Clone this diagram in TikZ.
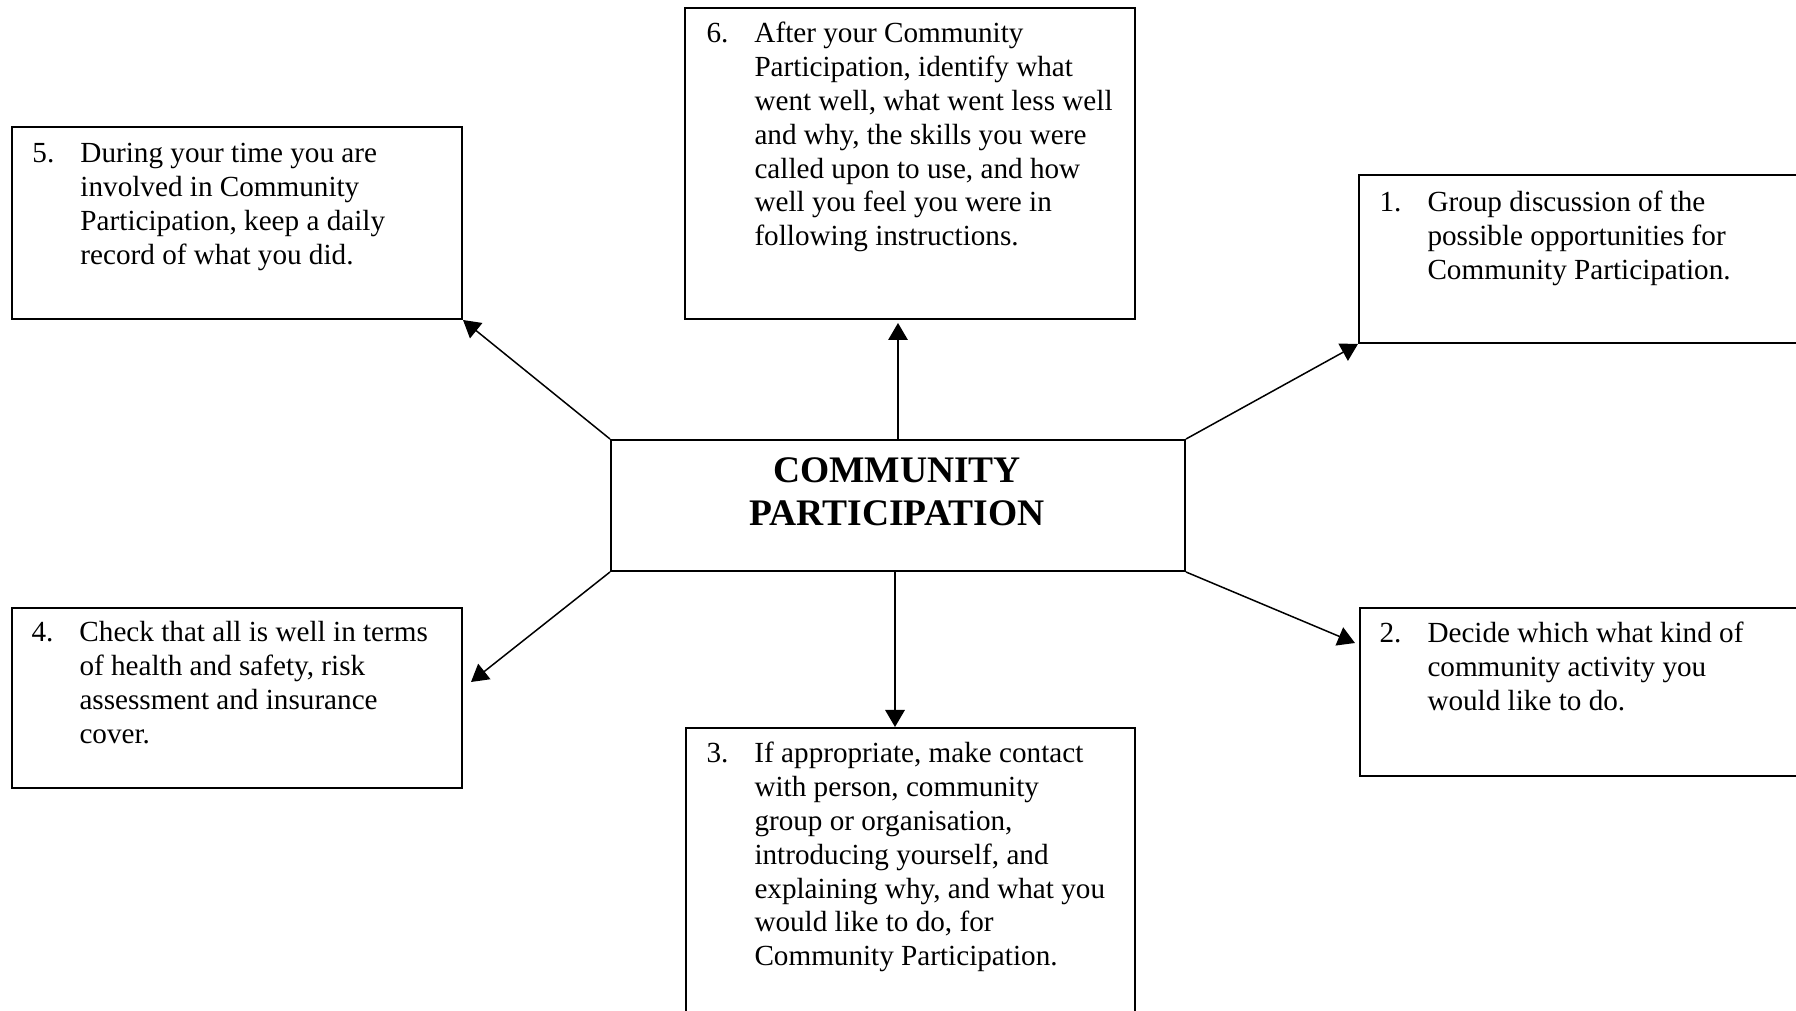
\documentclass[tikz,border=0pt]{standalone}
\usepackage{fontspec}
\setmainfont{Liberation Serif}
\usetikzlibrary{arrows.meta,calc,positioning}

\begin{document}
\begin{tikzpicture}[x=0.4pt, y=-0.4pt,
		stepbox/.style={draw, line width=0.8pt, anchor=north west, inner sep=0pt, minimum width=180pt},
		steptext/.style={anchor=base west, inner sep=0pt, font=\fontsize{11.67pt}{13.52pt}\selectfont},
		link/.style={line width=0.6pt, -{Triangle[length=6.8pt,width=7.8pt]}}]
		\useasboundingbox (0,0) rectangle (1796,1011);
		\node [stepbox, minimum height=76.8pt] (box5) at (11,126) {};
		\node [stepbox, minimum height=124.4pt] (box6) at (684,7) {};
		\node [stepbox, minimum height=67.2pt] (box1) at (1358,174) {};
		\node [stepbox, minimum height=72pt] (box4) at (11,607) {};
		\node [stepbox, minimum width=179.6pt, minimum height=124.4pt] (box3) at (685,727) {};
		\node [stepbox, minimum height=67.2pt] (box2) at (1359,607) {};
		\node [stepbox, minimum width=229.6pt, minimum height=52.4pt] (centre) at (610,439) {};
		\node [anchor=base, inner sep=0pt, font=\fontsize{15pt}{17.2pt}\selectfont\bfseries] (title) at (897,483) {\begin{tabular}[t]{@{}c@{}}COMMUNITY\\PARTICIPATION\end{tabular}};
		\node [steptext] (text5) at (32,163) {\begin{tabular}[t]{@{}p{19.2pt}@{}l@{}}5. & During your time you are\\ & involved in Community\\ & Participation, keep a daily\\ & record of what you did.\end{tabular}};
		\node [steptext] (text6) at (706,43) {\begin{tabular}[t]{@{}p{19.2pt}@{}l@{}}6. & After your Community\\ & Participation, identify what\\ & went well, what went less well\\ & and why, the skills you were\\ & called upon to use, and how\\ & well you feel you were in\\ & following instructions.\end{tabular}};
		\node [steptext] (text1) at (1379,212) {\begin{tabular}[t]{@{}p{19.2pt}@{}l@{}}1. & Group discussion of the\\ & possible opportunities for\\ & Community Participation.\end{tabular}};
		\node [steptext] (text4) at (31,642) {\begin{tabular}[t]{@{}p{19.2pt}@{}l@{}}4. & Check that all is well in terms\\ & of health and safety, risk\\ & assessment and insurance\\ & cover.\end{tabular}};
		\node [steptext] (text3) at (706,763) {\begin{tabular}[t]{@{}p{19.2pt}@{}l@{}}3. & If appropriate, make contact\\ & with person, community\\ & group or organisation,\\ & introducing yourself, and\\ & explaining why, and what you\\ & would like to do, for\\ & Community Participation.\end{tabular}};
		\node [steptext] (text2) at (1379,643) {\begin{tabular}[t]{@{}p{19.2pt}@{}l@{}}2. & Decide which what kind of\\ & community activity you\\ & would like to do.\end{tabular}};
		\draw [link] (centre.north west) -- (box5.south east);
		\draw [link, shorten >=1.2pt] (centre.north) -- (centre.north |- box6.south);
		\draw [link] (centre.north east) -- (box1.south west);
		\draw [link] (centre.south east) -- ($(box2.north west)+(-4,36)$);
		\draw [link] (centre.south west) -- ($(box4.north east)+(8,75)$);
		\draw [link] ([xshift=-1.2pt]centre.south) -- ([xshift=-1.2pt]centre.south |- box3.north);
	\end{tikzpicture}
\end{document}
